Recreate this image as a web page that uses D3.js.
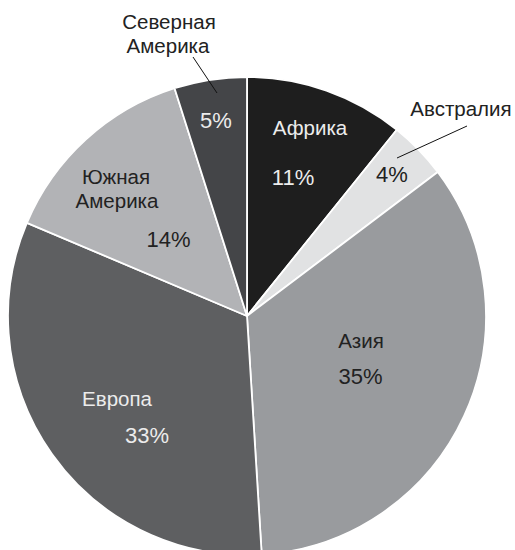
<!DOCTYPE html>
<html><head><meta charset="utf-8">
<script src="https://cdn.jsdelivr.net/npm/d3@7"></script>
<style>body{margin:0;background:#fff}svg{display:block}text{font-family:"Liberation Sans",Arial,sans-serif}</style>
</head><body>
<svg id="c" width="515" height="550"></svg>
<script>
// Data
const categories = ["Африка", "Австралия", "Азия", "Европа", "Южная Америка", "Северная Америка"];
const values = [11, 4, 35, 33, 14, 5];
const valueLabels = ["11%", "4%", "35%", "33%", "14%", "5%"];

// Styling / layout (not data)
const fills = ["#1e1e1e", "#e1e2e3", "#999b9e", "#5e5f61", "#b2b3b6", "#444548"];
const textFill = ["#ececec", "#222", "#222", "#ececec", "#222", "#ececec"];
const nameFill = ["#ececec", "#222", "#222", "#ececec", "#222", "#222"];
const nameLines = [["Африка"], ["Австралия"], ["Азия"], ["Европа"], ["Южная", "Америка"], ["Северная", "Америка"]];
const namePos = [[[63,-181]], [[214,-200]], [[114,32]], [[-130,90]], [[-131,-132],[-130,-108]], [[-78,-287],[-79,-263]]];
const valuePos = [[46,-131], [145,-134], [113.5,68], [-100,127], [-78.5,-69], [-31,-188]];
const leaders = {1: [[150,-158],[220,-190]], 5: [[-54,-259],[-30,-223]]};

const cx = 247, cy = 316, r = 239;
const svg = d3.select("#c");
const g = svg.append("g").attr("transform", `translate(${cx},${cy})`);

const pie = d3.pie().sort(null).value(d => d.v);
const data = categories.map((c, i) => ({c, v: values[i], i}));
const arcs = pie(data);
const arc = d3.arc().innerRadius(0).outerRadius(r);

g.selectAll("path.slice").data(arcs).join("path")
  .attr("class", "slice")
  .attr("d", arc)
  .attr("fill", d => fills[d.data.i])
  .attr("stroke", "#fff")
  .attr("stroke-width", 1.8)
  .attr("stroke-linejoin", "round");

Object.entries(leaders).forEach(([k, pts]) => {
  g.append("line")
    .attr("x1", pts[0][0]).attr("y1", pts[0][1])
    .attr("x2", pts[1][0]).attr("y2", pts[1][1])
    .attr("stroke", "#111").attr("stroke-width", 1);
});

arcs.forEach(d => {
  const i = d.data.i;
  nameLines[i].forEach((t, j) => {
    g.append("text")
      .attr("x", namePos[i][j][0]).attr("y", namePos[i][j][1])
      .attr("text-anchor", "middle")
      .attr("font-size", 20.5)
      .attr("fill", nameFill[i])
      .text(t);
  });
  g.append("text")
    .attr("x", valuePos[i][0]).attr("y", valuePos[i][1])
    .attr("text-anchor", "middle")
    .attr("font-size", 22)
    .attr("fill", textFill[i])
    .text(valueLabels[i]);
});
</script>
</body></html>
